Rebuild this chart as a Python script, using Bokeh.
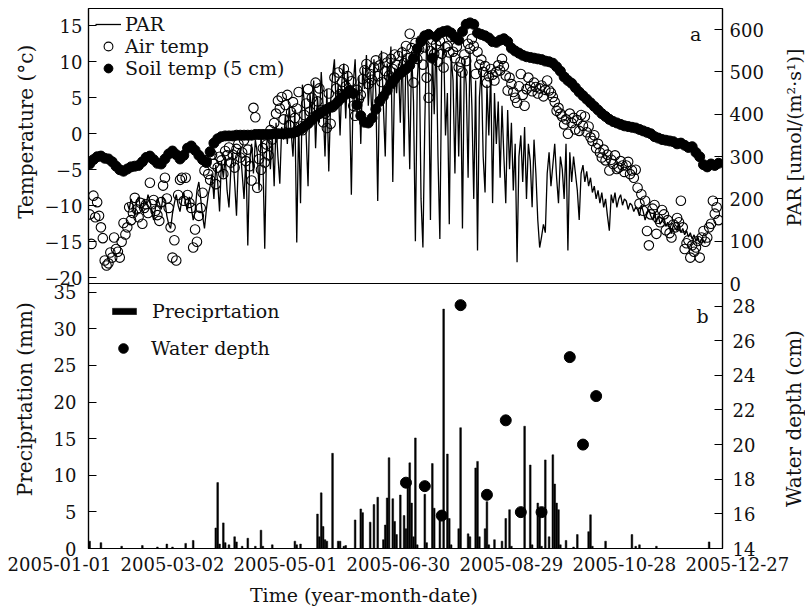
from bokeh.plotting import figure
from bokeh.models import Range1d, LinearAxis, SingleIntervalTicker, Legend, LegendItem
from bokeh.layouts import column, row
from bokeh.core.properties import value
from bokeh.embed import file_html
from bokeh.resources import INLINE
import math

FONT = "DejaVu Serif"
INK = "#111111"

# ---------------- data (x = days since 2005-01-01) ----------------
date_ticks = [0, 60, 120, 180, 240, 300, 360]
date_labels = ["2005-01-01", "2005-03-02", "2005-05-01", "2005-06-30",
               "2005-08-29", "2005-10-28", "2005-12-27"]

# daily air temperature, starting day 16
air_start = 16
air_temp = [
    -11.2, -15.3, -8.6, -11.6, -9.5, -11.4, -13.0, -14.5, -17.6, -18.3,
    -18.0, -16.5, -17.2, -14.4, -16.0, -16.4, -17.2, -15.0, -12.4, -14.0,
    -13.0, -10.2, -12.0, -11.0, -8.9, -10.5, -11.6, -9.6, -12.5, -10.3,
    -9.8, -11.0, -6.8, -9.8, -9.2, -10.7, -11.3, -12.1, -9.5, -7.2,
    -6.1, -9.0, -10.3, -13.0, -17.2, -14.8, -17.6, -8.5, -6.4, -6.1,
    -9.3, -6.1, -8.5, -9.6, -10.3, -15.8, -13.3, -15.0, -11.4, -10.3,
    -8.2, -5.1, -3.7, -5.6, -6.4, -2.9, -4.2, -7.0, -4.7, -3.2,
    -3.7, -5.6, -2.4, -3.0, -1.9, -4.0, -2.9, -4.7, -2.1, -1.4,
    -3.3, -2.6, -0.9, -3.8, -2.2, -4.5, -6.5, 3.6, 2.3, -7.5,
    -3.5, -5.0, -2.0, -4.0, -1.5, -3.0, 0.5, -0.8, 1.5, 2.8,
    4.6, 3.5, 5.1, 2.0, 4.0, 5.4, 1.2, 3.0, 4.4, 2.2,
    3.5, 5.8, 1.0, 0.5, 2.6, 4.2, 6.2, 3.1, 5.0, 2.4,
    7.1, 4.5, 6.3, 3.3, 1.6, 2.8, 0.8, 5.6, 1.4, 3.7,
    7.8, 6.3, 8.5, 5.5, 7.2, 9.0, 6.6, 8.0, 5.9, 7.3,
    3.9, 2.5, 6.1, 4.8, 5.4, 7.6, 8.8, 9.7, 6.9, 8.3,
    7.5, 9.2, 10.2, 8.0, 9.5, 7.2, 10.6, 8.7, 9.9, 8.1,
    10.4, 9.0, 11.0, 9.6, 10.8, 8.4, 11.3, 9.8, 12.2, 10.5,
    13.9, 11.9, 7.1, 12.6, 10.4, 11.7, 13.0, 9.6, 12.0, 7.8,
    5.0, 11.5, 13.1, 11.1, 12.4, 10.0, 12.9, 11.1, 9.2, 12.0,
    12.2, 11.3, 13.5, 11.4, 10.5, 12.1, 9.2, 10.0, 8.5, 11.0,
    10.1, 12.5, 11.8, 13.2, 12.2, 8.3, 11.4, 9.6, 10.3, 8.6,
    9.4, 7.1, 8.0, 9.0, 8.2, 7.4, 8.6, 9.5, 8.8, 10.4,
    9.4, 8.1, 6.0, 7.8, 6.9, 5.8, 5.0, 4.3, 6.6, 8.3,
    5.4, 3.9, 6.2, 7.8, 6.6, 5.9, 7.1, 6.5, 5.6, 6.3,
    6.7, 5.2, 6.1, 7.4, 6.0, 5.7, 5.1, 4.4, 3.2, 3.6,
    2.8, 2.4, 1.3, 2.0, 0.0, 2.8, 1.5, 2.2, 0.6, 1.9,
    0.4, 2.6, 1.1, 2.4, 0.2, 1.0, -0.5, -1.0, -0.2, -2.0,
    -1.4, -2.6, -3.3, -2.2, -3.7, -2.9, -5.1, -3.6, -4.2, -3.0,
    -4.9, -4.7, -3.8, -4.4, -5.3, -4.4, -3.9, -5.6, -5.1, -6.1,
    -5.0, -7.5, -9.7, -8.4, -10.7, -9.3, -13.5, -15.5, -11.2, -10.4,
    -9.9, -13.9, -11.8, -12.3, -10.6, -11.2, -13.4, -12.0, -13.8, -14.4,
    -12.6, -13.0, -11.7, -12.3, -9.3, -13.0, -16.0, -15.2, -14.8, -17.2,
    -15.5, -16.4, -15.8, -14.9, -17.2, -14.4, -13.5, -15.0, -14.4, -13.0,
    -12.5, -9.3, -11.1, -10.2, -12.0,
]

# soil temperature (5 cm), every second day starting day 16
soil_start, soil_step = 16, 2
soil_temp = [
    -4.2, -3.6, -3.2, -3.1, -3.4, -3.5, -3.9, -4.5, -5.0, -5.2,
    -4.9, -4.6, -4.5, -4.4, -3.9, -3.3, -3.1, -3.6, -4.1, -4.2,
    -3.5, -2.8, -2.4, -2.9, -3.5, -3.0, -2.0, -1.7, -2.3, -3.0,
    -3.6, -4.0, -2.5, -1.3, -0.7, -0.4, -0.3, -0.3, -0.3, -0.2,
    -0.2, -0.2, -0.2, -0.2, -0.1, -0.1, -0.1, -0.1, -0.1, 0.0,
    0.0, 0.0, 0.0, 0.1, 0.1, 0.3, 0.6, 1.0, 1.4, 1.9,
    2.4, 2.8, 3.1, 3.4, 3.7, 4.0, 4.5, 5.0, 5.5, 6.0,
    5.6, 4.0, 2.5, 1.6, 1.5, 2.2, 3.4, 4.5, 5.2, 6.0,
    6.9, 7.6, 8.2, 8.6, 9.0, 9.5, 10.5, 11.8, 12.8, 13.6,
    13.8, 10.5, 13.5, 14.0, 14.2, 14.3, 14.0, 13.4, 13.0, 14.2,
    15.2, 15.4, 15.2, 14.0, 13.8, 13.6, 13.3, 12.8, 12.7, 13.0,
    13.2, 12.8, 11.9, 11.5, 11.2, 10.9, 10.7, 10.6, 10.5, 10.4,
    10.3, 10.1, 10.0, 9.8, 9.3, 8.7, 7.9, 7.4, 7.0, 6.4,
    5.8, 5.3, 4.8, 4.3, 3.8, 3.3, 2.8, 2.4, 2.0, 1.7,
    1.5, 1.3, 1.1, 1.0, 0.9, 0.8, 0.6, 0.4, 0.2, 0.0,
    -0.4, -0.6, -0.8, -0.9, -1.0, -1.1, -1.4, -1.3, -1.6, -1.9,
    -1.8, -2.6, -3.2, -4.3, -4.6, -4.2, -4.4, -4.1,
]

# daily PAR, starting day 36
par_start = 36
par = [
    190, 175, 200, 185, 160, 195, 205, 180, 170, 200,
    185, 210, 195, 170, 150, 180, 200, 190, 175, 205,
    195, 160, 140, 130, 165, 190, 210, 185, 170, 200,
    215, 190, 175, 205, 180, 150, 170, 220, 240, 200,
    160, 130, 175, 210, 230, 260, 200, 280, 240, 170,
    290, 250, 300, 220, 180, 270, 310, 240, 160, 290,
    320, 260, 200, 300, 90, 290, 330, 260, 340, 310,
    220, 350, 300, 82, 330, 360, 270, 350, 230, 380,
    300, 236, 370, 340, 400, 330, 420, 360, 300, 410,
    97, 380, 190, 470, 430, 350, 230, 450, 400, 480,
    320, 440, 380, 500, 420, 300, 460, 265, 430, 490,
    530, 410, 470, 350, 480, 520, 390, 500, 440, 210,
    470, 530, 400, 490, 330, 510, 460, 540, 420, 500,
    380, 530, 450, 195, 490, 550, 420, 300, 520, 470,
    560, 240, 510, 450, 520, 380, 560, 300, 540, 470,
    270, 550, 430, 100, 480, 560, 200, 85, 380, 580,
    500, 150, 560, 400, 590, 300, 105, 520, 570, 350,
    450, 140, 540, 480, 260, 520, 300, 500, 130, 530,
    470, 250, 550, 420, 200, 480, 78, 440, 510, 300,
    215, 470, 350, 500, 190, 450, 330, 430, 250, 420,
    300, 190, 410, 270, 380, 220, 330, 50, 300, 350,
    240, 370, 200, 330, 290, 180, 340, 260, 150, 85,
    110, 140, 120, 260, 310, 230, 280, 330, 250, 190,
    300, 270, 200, 330, 78, 310, 240, 300, 260, 220,
    150, 260, 280, 240, 265, 230, 250, 215, 230, 200,
    220, 190, 215, 180, 200, 160, 125, 210, 190, 215,
    180, 200, 210, 185, 200, 195, 175, 190, 185, 170,
    180, 175, 160, 185, 170, 150, 165, 175, 160, 150,
    170, 145, 160, 140, 150, 155, 135, 145, 130, 118,
    140, 130, 125, 140, 120, 130, 115, 125, 110, 120,
    105, 115, 100, 110, 95, 105, 100, 95,
]

# precipitation (mm) on rainy days
precip_day = [16, 22, 33, 44, 52, 57, 60, 67, 71, 83, 84, 85, 87, 88, 90, 93, 94, 97,
              100, 104, 107, 108, 113, 125, 126, 128, 137, 138, 139, 140, 141, 142,
              145, 148, 149, 151, 152, 157, 160, 161, 165, 167, 169, 172, 173, 174,
              175, 177, 178, 179, 181, 183, 184, 185, 186, 187, 188, 189, 190, 194,
              195, 198, 199, 202, 204, 206, 207, 208, 212, 213, 217, 218, 221, 222,
              223, 226, 227, 228, 231, 235, 237, 239, 240, 247, 250, 251, 254, 255,
              256, 258, 260, 262, 263, 264, 265, 266, 269, 273, 275, 281, 282, 283,
              290, 304, 306, 308, 317, 345]
precip_mm = [1.0, 0.8, 0.3, 0.4, 0.2, 0.6, 0.2, 0.7, 1.1, 2.8, 9.0, 0.6, 3.5, 0.8, 0.5, 1.6, 0.9, 0.3,
             1.4, 0.3, 2.5, 0.3, 0.5, 1.0, 0.5, 0.6, 4.7, 1.6, 7.6, 3.0, 1.2, 1.0,
             13.0, 1.0, 1.0, 0.3, 0.4, 3.9, 5.4, 4.9, 3.6, 6.0, 7.0, 1.2, 3.2, 6.9,
             12.4, 6.8, 3.7, 1.9, 7.3, 4.5, 2.7, 8.8, 11.7, 6.2, 1.6, 15.1, 0.5, 7.4,
             0.8, 11.6, 5.5, 4.6, 32.7, 12.9, 4.1, 0.5, 2.7, 16.5, 2.0, 1.6, 11.0, 11.9,
             1.6, 2.7, 6.4, 0.5, 1.2, 1.0, 4.1, 5.3, 0.3, 16.7, 11.4, 0.5, 6.2, 5.1,
             0.3, 12.1, 1.6, 12.8, 8.8, 6.2, 5.3, 0.5, 1.1, 0.2, 1.9, 2.3, 4.6, 0.3,
             1.0, 1.9, 0.3, 0.5, 0.3, 0.9]

# water depth (cm)
wd_day = [184, 194, 203, 213, 227, 237, 245, 256, 271, 278, 285]
wd_cm = [17.8, 17.6, 15.9, 28.05, 17.1, 21.4, 16.1, 16.1, 25.05, 20.0, 22.8]

air_days = list(range(air_start, air_start + len(air_temp)))
soil_days = list(range(soil_start, soil_start + soil_step * len(soil_temp), soil_step))
par_days = list(range(par_start, par_start + len(par)))

# ---------------- layout constants ----------------
X_RANGE = Range1d(15.4, 352.1)
W_L, W_R, W_MAIN = 40, 39, 726
PAD = 12                     # overlap band between stacked canvases
H1 = 8 + 275 + PAD           # panel a canvas
H2 = PAD + 265 + PAD         # panel b canvas
H3 = 60                      # date label strip
P3_LIFT = PAD - 2            # date strip starts 2 px below panel b frame


def style_axis(ax, interval, minors, standoff):
    ax.ticker = SingleIntervalTicker(interval=interval, num_minor_ticks=minors)
    ax.axis_line_color = "black"
    ax.axis_line_width = 1.2
    ax.major_tick_in = 8
    ax.major_tick_out = 0
    ax.minor_tick_in = 5
    ax.minor_tick_out = 0
    ax.major_tick_line_color = "black"
    ax.minor_tick_line_color = "black" if minors else None
    ax.major_label_text_font = FONT
    ax.major_label_text_font_size = "18px"
    ax.major_label_text_color = INK
    ax.major_label_standoff = standoff


def make_fig(width, height, x_range, y_range, left=0, right=0, top=0, bottom=0, outline=False):
    p = figure(width=width, height=height, x_range=x_range, y_range=y_range,
               x_axis_location=None, y_axis_location=None,
               toolbar_location=None, output_backend="svg",
               min_border_left=left, min_border_right=right,
               min_border_top=top, min_border_bottom=bottom)
    p.grid.visible = False
    p.outline_line_color = "black" if outline else None
    p.outline_line_width = 1.2
    p.background_fill_alpha = 0
    p.border_fill_alpha = 0
    return p


def put_text(p, xs, ys, texts, size="19px", angle=0.0, y_range_name="default"):
    p.text(x=xs, y=ys, text=texts, text_font=value(FONT), text_font_size=value(size),
           text_color=INK, text_align="center", text_baseline="middle",
           angle=angle, y_range_name=y_range_name)


# ---- panel a ----
p1 = make_fig(W_MAIN, H1, X_RANGE, Range1d(-20.8, 17.4), left=48, right=44, top=8, bottom=PAD,
              outline=True)
p1.extra_y_ranges = {"par": Range1d(0, 650)}
ax_l = LinearAxis()
style_axis(ax_l, 5, 0, 6)
p1.add_layout(ax_l, "left")
ax_r = LinearAxis(y_range_name="par")
style_axis(ax_r, 100, 1, 7)
p1.add_layout(ax_r, "right")

par_r = p1.line(par_days, par, y_range_name="par", line_color="black", line_width=1.3)
air_r = p1.scatter(air_days, air_temp, marker="circle", size=9.5, fill_color=None,
                   line_color="black", line_width=1.1)
soil_r = p1.scatter(soil_days, soil_temp, marker="circle", size=10, fill_color="black",
                    line_color="black")

leg1 = Legend(items=[LegendItem(label="PAR", renderers=[par_r]),
                     LegendItem(label="Air temp", renderers=[air_r]),
                     LegendItem(label="Soil temp (5 cm)", renderers=[soil_r])],
              location=(7, 204), glyph_width=26, glyph_height=22, label_height=22,
              label_standoff=4, spacing=-1, padding=0, margin=0,
              border_line_color=None, background_fill_alpha=0,
              label_text_font=FONT, label_text_font_size="19px", label_text_color=INK)
p1.add_layout(leg1, "center")
put_text(p1, [337.8], [13.9], ["a"])

L1 = make_fig(W_L, H1, Range1d(0, W_L), p1.y_range, top=8, bottom=PAD)
put_text(L1, [25], [0.28], ["Temperature (°c)"], size="20px", angle=math.pi / 2)
R1 = make_fig(W_R, H1, Range1d(0, W_R), p1.extra_y_ranges["par"], top=8, bottom=PAD)
put_text(R1, [27], [345], ["PAR [umol/(m²·s¹)]"], size="19px", angle=math.pi / 2)

# ---- panel b ----
p2 = make_fig(W_MAIN, H2, X_RANGE, Range1d(0, 36.2), left=48, right=44, top=PAD, bottom=PAD,
              outline=True)
p2.extra_y_ranges = {"wd": Range1d(14, 29.3)}
bx_l = LinearAxis()
style_axis(bx_l, 5, 0, 12)
p2.add_layout(bx_l, "left")
bx_r = LinearAxis(y_range_name="wd")
style_axis(bx_r, 2, 0, 10)
p2.add_layout(bx_r, "right")

bar_r = p2.vbar(x=precip_day, top=precip_mm, bottom=0, width=0.9, fill_color="black",
                line_color="black", line_width=0.5)
wd_r = p2.scatter(wd_day, wd_cm, marker="circle", size=11, y_range_name="wd",
                  fill_color="black", line_color="black")

leg2a = Legend(items=[LegendItem(label="Preciprtation", renderers=[bar_r])],
               location=(21, 226), glyph_width=30, glyph_height=8, label_height=8,
               label_standoff=13, padding=0, margin=0,
               border_line_color=None, background_fill_alpha=0,
               label_text_font=FONT, label_text_font_size="19px", label_text_color=INK)
leg2b = Legend(items=[LegendItem(label="Water depth", renderers=[wd_r])],
               location=(23, 187), glyph_width=24, glyph_height=26, label_height=26,
               label_standoff=16, padding=0, margin=0,
               border_line_color=None, background_fill_alpha=0,
               label_text_font=FONT, label_text_font_size="19px", label_text_color=INK)
p2.add_layout(leg2a, "center")
p2.add_layout(leg2b, "center")
put_text(p2, [341.5], [31.8], ["b"])

L2 = make_fig(W_L, H2, Range1d(0, W_L), p2.y_range, top=PAD, bottom=PAD)
put_text(L2, [24], [20.4], ["Preciprtation (mm)"], size="20px", angle=math.pi / 2)
R2 = make_fig(W_R, H2, Range1d(0, W_R), p2.extra_y_ranges["wd"], top=PAD, bottom=PAD)
put_text(R2, [27], [21.5], ["Water depth (cm)"], size="20px", angle=math.pi / 2)

# ---- time axis labels strip ----
p3 = make_fig(805, H3, Range1d(-31.33, 396.2), Range1d(0, H3))
p3.margin = (-P3_LIFT, 0, 0, 0)
put_text(p3, date_ticks, [47] * len(date_ticks), date_labels, size="18px")
put_text(p3, [161.7], [16], ["Time (year-month-date)"], size="19px")

layout = column(row(L1, p1, R1),
                row(L2, p2, R2, margin=(-2 * PAD, 0, 0, 0)),
                p3)
open("out.html", "w").write(file_html(layout, INLINE))
